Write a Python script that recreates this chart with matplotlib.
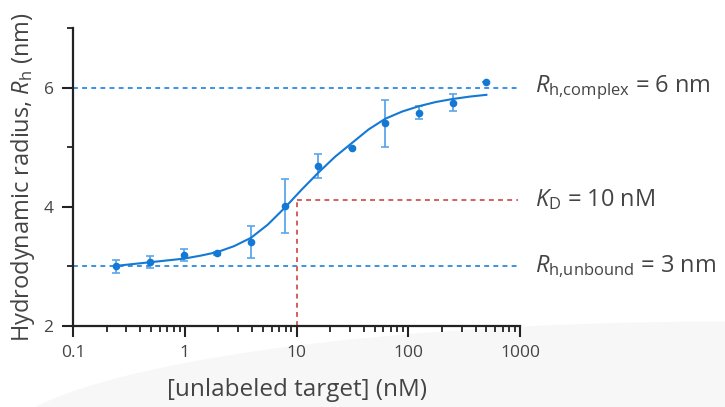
import matplotlib
matplotlib.use("Agg")
import matplotlib.pyplot as plt
from matplotlib.ticker import FixedLocator, NullFormatter, FixedFormatter
from matplotlib.patches import Ellipse
import matplotlib.transforms as mtransforms

FONT = 'Open Sans'
plt.rcParams['font.family'] = [FONT, 'DejaVu Sans']
plt.rcParams['mathtext.fontset'] = 'custom'
plt.rcParams['mathtext.rm'] = FONT
plt.rcParams['mathtext.it'] = FONT + ':italic'
plt.rcParams['mathtext.bf'] = FONT + ':bold'

# measured data
conc = [0.244, 0.488, 0.977, 1.95, 3.91, 7.81, 15.6, 31.25, 62.5, 125, 250, 500]
rh = [3.00, 3.07, 3.19, 3.22, 3.41, 4.01, 4.69, 4.98, 5.40, 5.58, 5.75, 6.10]
rh_err = [0.11, 0.10, 0.10, 0.03, 0.27, 0.45, 0.20, 0.0, 0.40, 0.11, 0.14, 0.0]

# fitted curve
fit_conc = [0.244, 0.345, 0.488, 0.69, 0.977, 1.38, 1.95, 2.76, 3.91, 5.52, 7.81,
            11.0, 15.6, 22.1, 31.25, 44.2, 62.5, 88.4, 125, 177, 250, 354, 500]
fit_rh = [3.01, 3.04, 3.07, 3.10, 3.13, 3.18, 3.24, 3.34, 3.48, 3.70, 3.98,
          4.28, 4.57, 4.84, 5.07, 5.30, 5.48, 5.60, 5.69, 5.76, 5.81, 5.85, 5.88]

rh_complex = 6
rh_unbound = 3
kd = 10
rh_at_kd = 4.12
line_end = 950

x_ticks = [0.1, 1, 10, 100, 1000]
x_ticklabels = ['0.1', '1', '10', '100', '1000']
x_minor = [m * d for d in [0.1, 1, 10, 100] for m in range(2, 10)]
y_ticks = [2, 4, 6]
y_minor = [3, 5, 7]

text_color = '#444444'
blue = '#1479d4'
light_blue = '#5aa6ea'
dash_blue = '#3b93e3'
red = '#d2605c'

fig = plt.figure(figsize=(7.25, 4.07), dpi=100)
bg = Ellipse((1.0, -0.10), 2.01, 0.62, transform=fig.transFigure,
             facecolor='#f7f7f7', edgecolor='none', zorder=-10)
fig.patches.append(bg)

ax = fig.add_axes([0.1007, 0.199, 0.6166, 0.732])
ax.patch.set_alpha(0)
ax.set_xscale('log')
ax.set_xlim(0.1, 1000)
ax.set_ylim(2, 7)

dash = (0, (2.5, 2.2))
ax.plot([0.1, line_end], [rh_complex, rh_complex], ls=dash, color=dash_blue, lw=1.4, zorder=1)
ax.plot([0.1, line_end], [rh_unbound, rh_unbound], ls=dash, color=dash_blue, lw=1.4, zorder=1)
ax.plot([kd, kd], [2, rh_at_kd], ls=dash, color=red, lw=1.4, zorder=1)
ax.plot([kd, line_end], [rh_at_kd, rh_at_kd], ls=dash, color=red, lw=1.4, zorder=1)

ax.plot(fit_conc, fit_rh, color=blue, lw=1.5, zorder=3)
ax.errorbar(conc, rh, yerr=rh_err, fmt='none', ecolor=light_blue, elinewidth=1.3,
            capsize=3, capthick=1.2, zorder=2)
ax.plot(conc, rh, 'o', color=blue, ms=5.5, mec='none', zorder=4)

for s in ['top', 'right']:
    ax.spines[s].set_visible(False)
for s in ['left', 'bottom']:
    ax.spines[s].set_color('#222222')
    ax.spines[s].set_linewidth(1.6)

ax.xaxis.set_major_locator(FixedLocator(x_ticks))
ax.xaxis.set_major_formatter(FixedFormatter(x_ticklabels))
ax.xaxis.set_minor_locator(FixedLocator(x_minor))
ax.xaxis.set_minor_formatter(NullFormatter())
ax.yaxis.set_major_locator(FixedLocator(y_ticks))
ax.yaxis.set_minor_locator(FixedLocator(y_minor))
ax.yaxis.set_minor_formatter(NullFormatter())
ax.tick_params(which='major', length=8, width=1.5, color='#222222', labelsize=12.5,
               labelcolor=text_color, pad=6)
ax.tick_params(which='minor', length=4, width=1.3, color='#222222')

ax.set_xlabel('[unlabeled target] (nM)', fontsize=17.5, color=text_color, labelpad=12)
ax.set_ylabel('Hydrodynamic radius, $\\mathit{R}_\\mathrm{h}$ (nm)', fontsize=17,
              color=text_color, labelpad=5)

tr = mtransforms.blended_transform_factory(ax.transAxes, ax.transData)
ax.text(1.034, rh_complex, '$\\mathit{R}_\\mathrm{h{,}complex}$ = 6 nm', transform=tr,
        fontsize=17, color=text_color, va='center', ha='left', clip_on=False)
ax.text(1.034, rh_at_kd, '$\\mathit{K}_\\mathrm{D}$ = 10 nM', transform=tr,
        fontsize=17, color=text_color, va='center', ha='left', clip_on=False)
ax.text(1.034, rh_unbound, '$\\mathit{R}_\\mathrm{h{,}unbound}$ = 3 nm', transform=tr,
        fontsize=17, color=text_color, va='center', ha='left', clip_on=False)

fig.savefig('out.png', dpi=100)
